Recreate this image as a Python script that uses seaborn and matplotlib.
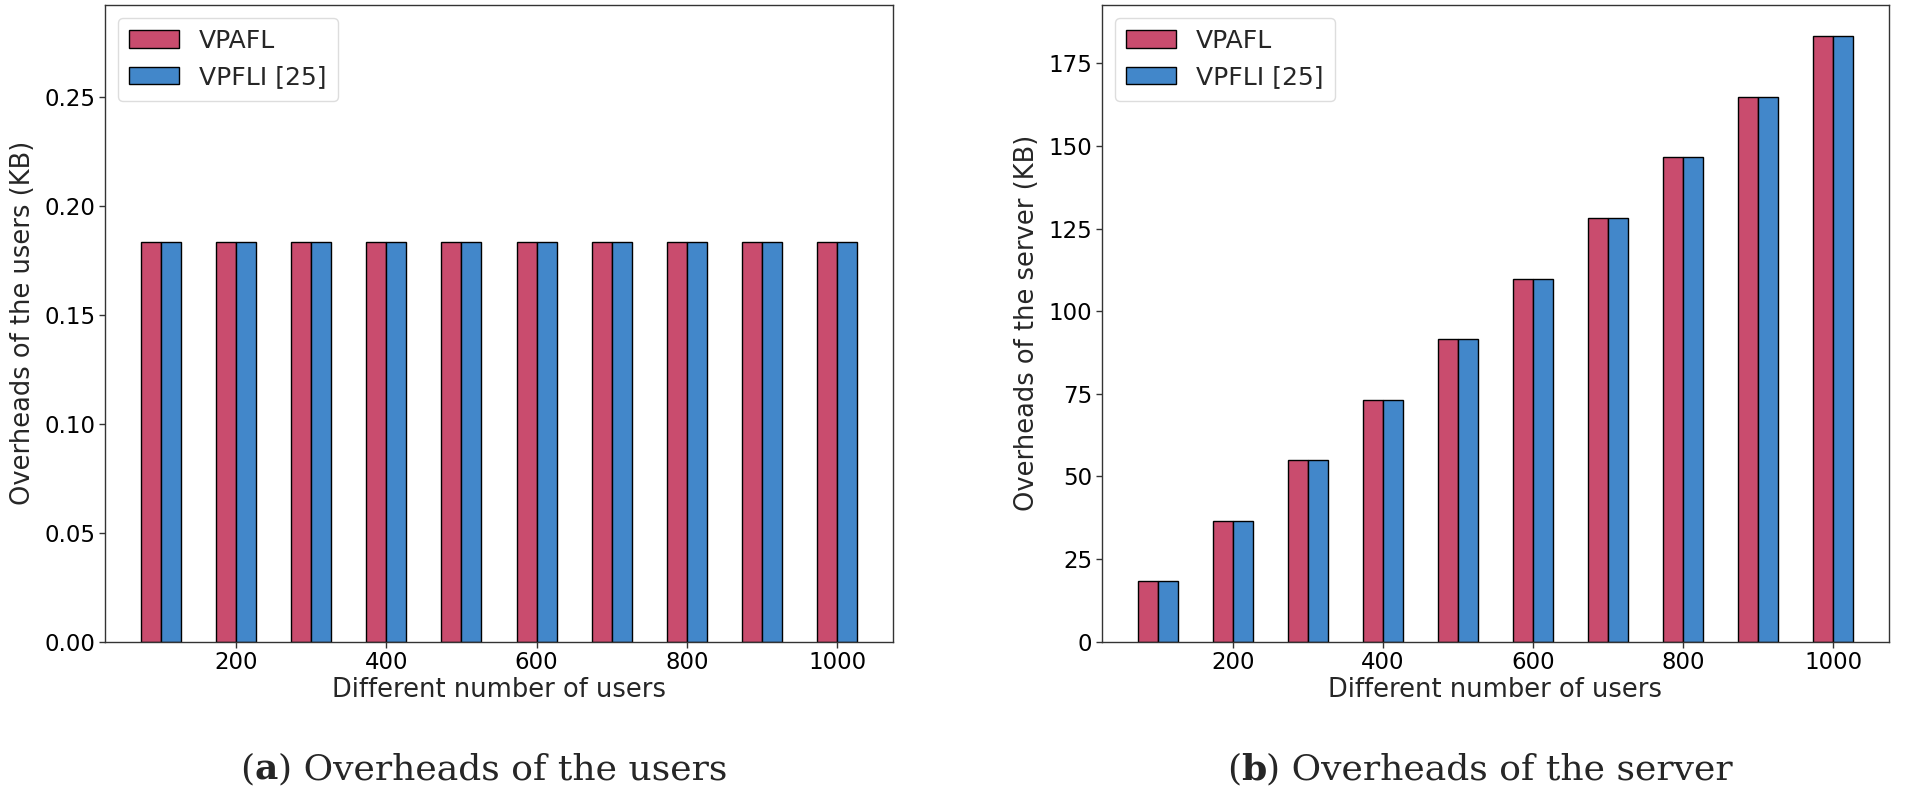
import numpy as np
import pandas as pd
import matplotlib
matplotlib.use("Agg")
import matplotlib.pyplot as plt
import seaborn as sns

# ---------------- data ----------------
users = [100, 200, 300, 400, 500, 600, 700, 800, 900, 1000]
methods = ["VPAFL", "VPFLI [25]"]
user_vpafl = [0.1832] * 10
user_vpfli = [0.1832] * 10
server_vpafl = [18.32, 36.64, 54.96, 73.28, 91.60, 109.92, 128.24, 146.56, 164.88, 183.20]
server_vpfli = [18.32, 36.64, 54.96, 73.28, 91.60, 109.92, 128.24, 146.56, 164.88, 183.20]
xtick_vals = [200, 400, 600, 800, 1000]
ylabels = ["Overheads of the users (KB)", "Overheads of the server (KB)"]
xlabel = "Different number of users"
captions = [("a", " Overheads of the users"), ("b", " Overheads of the server")]

colors = {"VPAFL": "#C94C6E", "VPFLI [25]": "#4287CA"}

sns.set_theme(style="ticks")
plt.rcParams["font.family"] = ["DejaVu Sans"]
plt.rcParams["axes.edgecolor"] = "#333333"
plt.rcParams["axes.linewidth"] = 1.0


def make_df(a, b):
    return pd.DataFrame({
        "users": users + users,
        "value": list(a) + list(b),
        "method": [methods[0]] * len(users) + [methods[1]] * len(users),
    })


W, H = 1905, 802
fig = plt.figure(figsize=(W / 100, H / 100), dpi=100)
ax_l = fig.add_axes([105 / W, 1 - 641.7 / H, 788 / W, 636.7 / H])
ax_r = fig.add_axes([1102 / W, 1 - 641.7 / H, 787 / W, 636.7 / H])

panels = [
    (ax_l, make_df(user_vpafl, user_vpfli), (0, 0.292), [0.0, 0.05, 0.10, 0.15, 0.20, 0.25], "{:.2f}"),
    (ax_r, make_df(server_vpafl, server_vpfli), (0, 192.7), [0, 25, 50, 75, 100, 125, 150, 175], "{:d}"),
]

for i, (ax, df, ylim, yt, fmt) in enumerate(panels):
    sns.barplot(data=df, x="users", y="value", hue="method", hue_order=methods,
                palette=colors, native_scale=True, width=0.533, errorbar=None,
                saturation=1, edgecolor="black", linewidth=1.0, ax=ax)
    ax.set_xlim(26, 1074)
    ax.set_ylim(*ylim)
    ax.set_xticks(xtick_vals)
    ax.set_xticklabels([str(v) for v in xtick_vals], fontsize=16.5)
    ax.set_yticks(yt)
    ax.set_yticklabels([fmt.format(v) for v in yt], fontsize=16.5)
    ax.set_xlabel(xlabel, fontsize=18.5, labelpad=2)
    ax.set_ylabel(ylabels[i], fontsize=18.5, labelpad=6)
    ax.tick_params(axis="both", length=4, width=1, pad=3, color="#333333", labelcolor="black")
    for s in ax.spines.values():
        s.set_visible(True)
        s.set_color("#333333")
    h, l = ax.get_legend_handles_labels()
    ax.legend(h, l, loc="upper left", fontsize=18, frameon=True, fancybox=True,
              edgecolor="#dddddd", framealpha=1.0, borderpad=0.45)

# captions
serif = ["DejaVu Serif", "Liberation Serif"]
cap_centers = [484 / W, 1480 / W]
cap_y = 1 - 769 / H
for (letter, rest), cx in zip(captions, cap_centers):
    t1 = fig.text(0, cap_y, "(", fontsize=26, family=serif, va="center", ha="left")
    t2 = fig.text(0, cap_y, letter, fontsize=26, family=serif, weight="bold", va="center", ha="left")
    t3 = fig.text(0, cap_y, ")" + rest, fontsize=26, family=serif, va="center", ha="left")
    fig.canvas.draw()
    r = fig.canvas.get_renderer()
    w1 = t1.get_window_extent(r).width / W
    w2 = t2.get_window_extent(r).width / W
    w3 = t3.get_window_extent(r).width / W
    x0 = cx - (w1 + w2 + w3) / 2
    t1.set_x(x0)
    t2.set_x(x0 + w1)
    t3.set_x(x0 + w1 + w2)

fig.savefig("out.png", dpi=100)
